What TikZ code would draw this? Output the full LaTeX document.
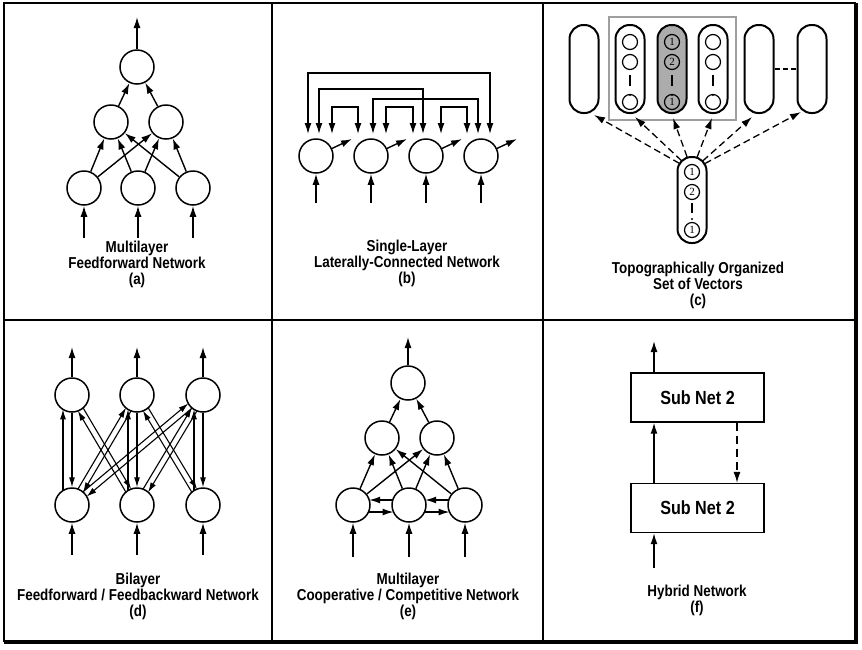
\documentclass[tikz,border=0pt]{standalone}
\usepackage{fontspec}
\setmainfont{Liberation Sans}
\newfontfamily\lblfont[FakeStretch=0.85]{Liberation Sans}
\newfontfamily\digfont{Liberation Serif}
\usetikzlibrary{arrows.meta,calc}
\begin{document}
\begin{tikzpicture}[x=1pt,y=-1pt,
  neuron/.style={circle,draw,line width=1.5pt,minimum size=34pt,inner sep=0pt},
  arr/.style={line width=1.4pt,-{Latex[length=11pt,width=7pt]}},
  arrboth/.style={line width=1.4pt,{Latex[length=11pt,width=7pt]}-{Latex[length=11pt,width=7pt]}},
  varr/.style={line width=1.1pt,-{Latex[length=10pt,width=6pt]}},
  darr/.style={line width=1.1pt,shorten <=16.5pt,shorten >=16.5pt,-{Latex[length=10pt,width=6pt]}},
  lbl/.style={align=center,font=\lblfont\bfseries\fontsize{15.8}{16}\selectfont,inner sep=0pt},
  capsule/.style={draw,line width=2pt,rounded corners=14pt,minimum width=29pt,minimum height=88pt,inner sep=0pt},
  cnode/.style={circle,draw,line width=1.2pt,minimum size=15pt,inner sep=0pt,font=\digfont\fontsize{11}{11}\selectfont},
  dasharr/.style={line width=1.3pt,dash pattern=on 7pt off 4pt,-{Latex[length=11pt,width=7pt]}},
  fdash/.style={line width=1.2pt,dash pattern=on 8pt off 5pt,-{Latex[length=11pt,width=7pt]}},
  fbox/.style={draw,line width=1.4pt,minimum width=133pt,minimum height=49pt,inner sep=0pt,font=\lblfont\bfseries\fontsize{19}{19}\selectfont}
]
\useasboundingbox (0,0) rectangle (862,649);
% frame
\draw[line width=1.3pt] (4,3) rectangle (855,641);
\draw[line width=3.2pt] (856,3) -- (856,642.5) -- (4,642.5);
\draw[line width=1.3pt] (272,3) -- (272,641);
\draw[line width=1.3pt] (543,3) -- (543,641);
\draw[line width=1.3pt] (4,320) -- (855,320);

% ---------- (a)
\node[neuron] (a1) at (137,67) {};
\node[neuron] (a21) at (111,122) {};
\node[neuron] (a22) at (166,122) {};
\node[neuron] (a31) at (84,188) {};
\node[neuron] (a32) at (138,188) {};
\node[neuron] (a33) at (193,188) {};
\coordinate (ao) at (137,17);
\coordinate (ai1) at (84,238);
\coordinate (ai2) at (138,238);
\coordinate (ai3) at (193,238);
\draw[arr] (a1) -- (ao);
\foreach \i in {1,2,3} {\draw[arr] (ai\i) -- (a3\i);}
\foreach \s in {1,2,3} {\foreach \t in {1,2} {\draw[arr] (a3\s) -- (a2\t);}}
\foreach \t in {1,2} {\draw[arr] (a2\t) -- (a1);}
\node[lbl] (la) at (137,264) {Multilayer\\Feedforward Network\\(a)};

% ---------- (b)
\foreach \i/\x in {1/316,2/371,3/426,4/481} {
  \node[neuron] (b\i) at (\x,156) {};
  \coordinate (bi\i) at (\x,203);
  \coordinate (bo\i) at (\x+36,139);
  \draw[arr] (bi\i) -- (b\i);
  \draw[arr] (b\i) -- (bo\i);
}
\coordinate (p1a) at ($(b1.center)+(-8,-22)$);
\coordinate (p1b) at ($(b1.center)+(3,-22)$);
\coordinate (p1c) at ($(b1.center)+(16,-22)$);
\coordinate (p2a) at ($(b2.center)+(-13,-22)$);
\coordinate (p2b) at ($(b2.center)+(2,-22)$);
\coordinate (p2c) at ($(b2.center)+(15,-22)$);
\coordinate (p3a) at ($(b3.center)+(-13,-22)$);
\coordinate (p3b) at ($(b3.center)+(-3,-22)$);
\coordinate (p3c) at ($(b3.center)+(15,-22)$);
\coordinate (p4a) at ($(b4.center)+(-14,-22)$);
\coordinate (p4b) at ($(b4.center)+(-3,-22)$);
\coordinate (p4c) at ($(b4.center)+(9,-22)$);
\draw[arrboth] (p1a) -- ++(0,-61) -| (p4c);
\draw[arrboth] (p1b) -- ++(0,-45) -| (p3b);
\draw[arrboth] (p2b) -- ++(0,-35) -| (p4b);
\draw[arrboth] (p1c) -- ++(0,-27) -| (p2a);
\draw[arrboth] (p2c) -- ++(0,-27) -| (p3a);
\draw[arrboth] (p3c) -- ++(0,-27) -| (p4a);
\node[lbl] (lb) at (407,263) {Single-Layer\\Laterally-Connected Network\\(b)};

% ---------- (c)
\node[draw=gray!75,line width=1.2pt,minimum width=127pt,minimum height=103pt,inner sep=0pt] (cfr) at (672.5,68.5) {};
\node[capsule] (c1) at (584,69) {};
\node[capsule] (c2) at (630,69) {};
\node[capsule,fill=gray!65] (c3) at (672,69) {};
\node[capsule] (c4) at (713,69) {};
\node[capsule] (c5) at (759,69) {};
\node[capsule] (c6) at (812,69) {};
\foreach \k/\x in {2/630,4/713} {
  \node[cnode] (c\k n1) at (\x,42) {};
  \node[cnode] (c\k n2) at (\x,62) {};
  \node[cnode] (c\k n3) at (\x,102) {};
  \draw[line width=1.4pt] (c\k n2.south) ++(0,5) -- ++(0,11);
  \fill (\x,95) circle (1.2pt);
}
\node[cnode] (c3n1) at (672,42) {1};
\node[cnode] (c3n2) at (672,62) {2};
\node[cnode] (c3n3) at (672,102) {1};
\draw[line width=1.4pt] (c3n2.south) ++(0,5) -- ++(0,11);
\fill (672,95) circle (1.2pt);
\draw[line width=1.6pt,dash pattern=on 5pt off 3pt] (c5) -- (c6);
% bottom capsule
\node[capsule,minimum height=86pt] (cb) at (692,200) {};
\node[cnode] (cbn1) at (692,172) {1};
\node[cnode] (cbn2) at (692,192) {2};
\node[cnode] (cbn3) at (692,230) {1};
\draw[line width=1.4pt] (cbn2.south) ++(0,3) -- ++(0,10);
\fill (692,219) circle (1.2pt);
\coordinate (cbc) at ($(cb.north)+(0,14.5)$);
\coordinate (t1) at ($(c1.south)+(10,1)$);
\coordinate (t2) at ($(c2.south)+(5,3)$);
\coordinate (t3) at ($(c3.south)+(1,4)$);
\coordinate (t4) at ($(c4.south)+(-1,4)$);
\coordinate (t5) at ($(c5.south)+(-7,3)$);
\coordinate (t6) at ($(c6.south)+(-11,-2)$);
\foreach \t in {1,...,6} {\draw[dasharr] ($(cbc)!14.5pt!(t\t)$) -- (t\t);}
\node[lbl] (lc) at (698,285) {Topographically Organized\\Set of Vectors\\(c)};

% ---------- (d)
\foreach \i/\x in {1/72,2/137,3/203} {
  \node[neuron] (dt\i) at (\x,395) {};
  \node[neuron] (db\i) at (\x,505) {};
  \coordinate (do\i) at (\x,347);
  \coordinate (di\i) at (\x,555);
  \draw[arr] (dt\i) -- (do\i);
  \draw[arr] (di\i) -- (db\i);
  \draw[varr,shorten <=14.4pt,shorten >=14.4pt] ([xshift=-9pt]db\i.center) -- ([xshift=-9pt]dt\i.center);
  \draw[varr] (dt\i) -- (db\i);
}
\foreach \tp/\bt in {dt1/db2,dt2/db1,dt2/db3,dt3/db2,dt3/db1} {
  \draw[darr] ($(\bt.center)!3pt!90:(\tp.center)$) -- ($(\tp.center)!3pt!-90:(\bt.center)$);
  \draw[darr] ($(\tp.center)!3pt!90:(\bt.center)$) -- ($(\bt.center)!3pt!-90:(\tp.center)$);
}
\node[lbl] (ld) at (138,596) {Bilayer\\Feedforward / Feedbackward Network\\(d)};

% ---------- (e)
\node[neuron] (e1) at (408,383) {};
\node[neuron] (e21) at (382,438) {};
\node[neuron] (e22) at (437,438) {};
\node[neuron] (e31) at (353,505) {};
\node[neuron] (e32) at (409,505) {};
\node[neuron] (e33) at (465,505) {};
\coordinate (eo) at (408,337);
\coordinate (ei1) at (353,557);
\coordinate (ei2) at (409,557);
\coordinate (ei3) at (465,557);
\draw[arr] (e1) -- (eo);
\foreach \i in {1,2,3} {\draw[arr] (ei\i) -- (e3\i);}
\foreach \s in {1,2,3} {\foreach \t in {1,2} {\draw[arr] (e3\s) -- (e2\t);}}
\foreach \t in {1,2} {\draw[arr] (e2\t) -- (e1);}
\foreach \l/\r in {e31/e32,e32/e33} {
  \draw[arr,shorten <=16.2pt,shorten >=16.2pt] ([yshift=5pt]\r.center) -- ([yshift=5pt]\l.center);
  \draw[arr,shorten <=15.5pt,shorten >=15.5pt] ([yshift=-7pt]\l.center) -- ([yshift=-7pt]\r.center);
}
\node[lbl] (le) at (408,596) {Multilayer\\Cooperative / Competitive Network\\(e)};

% ---------- (f)
\node[fbox] (f1) at (697.5,397.5) {Sub Net 2};
\node[fbox] (f2) at (697.5,508) {Sub Net 2};
\coordinate (fo) at (654,341);
\coordinate (fi) at (654,568);
\coordinate (fd) at (737,450);
\draw[arr] (f1.north -| fo) -- (fo);
\draw[arr] (f2.north -| fo) -- (f1.south -| fo);
\draw[arr] (fi) -- (fi |- f2.south);
\draw[fdash] (f1.south -| fd) -- (f2.north -| fd);
\node[lbl] (lf) at (697,600) {Hybrid Network\\(f)};
\end{tikzpicture}
\end{document}
